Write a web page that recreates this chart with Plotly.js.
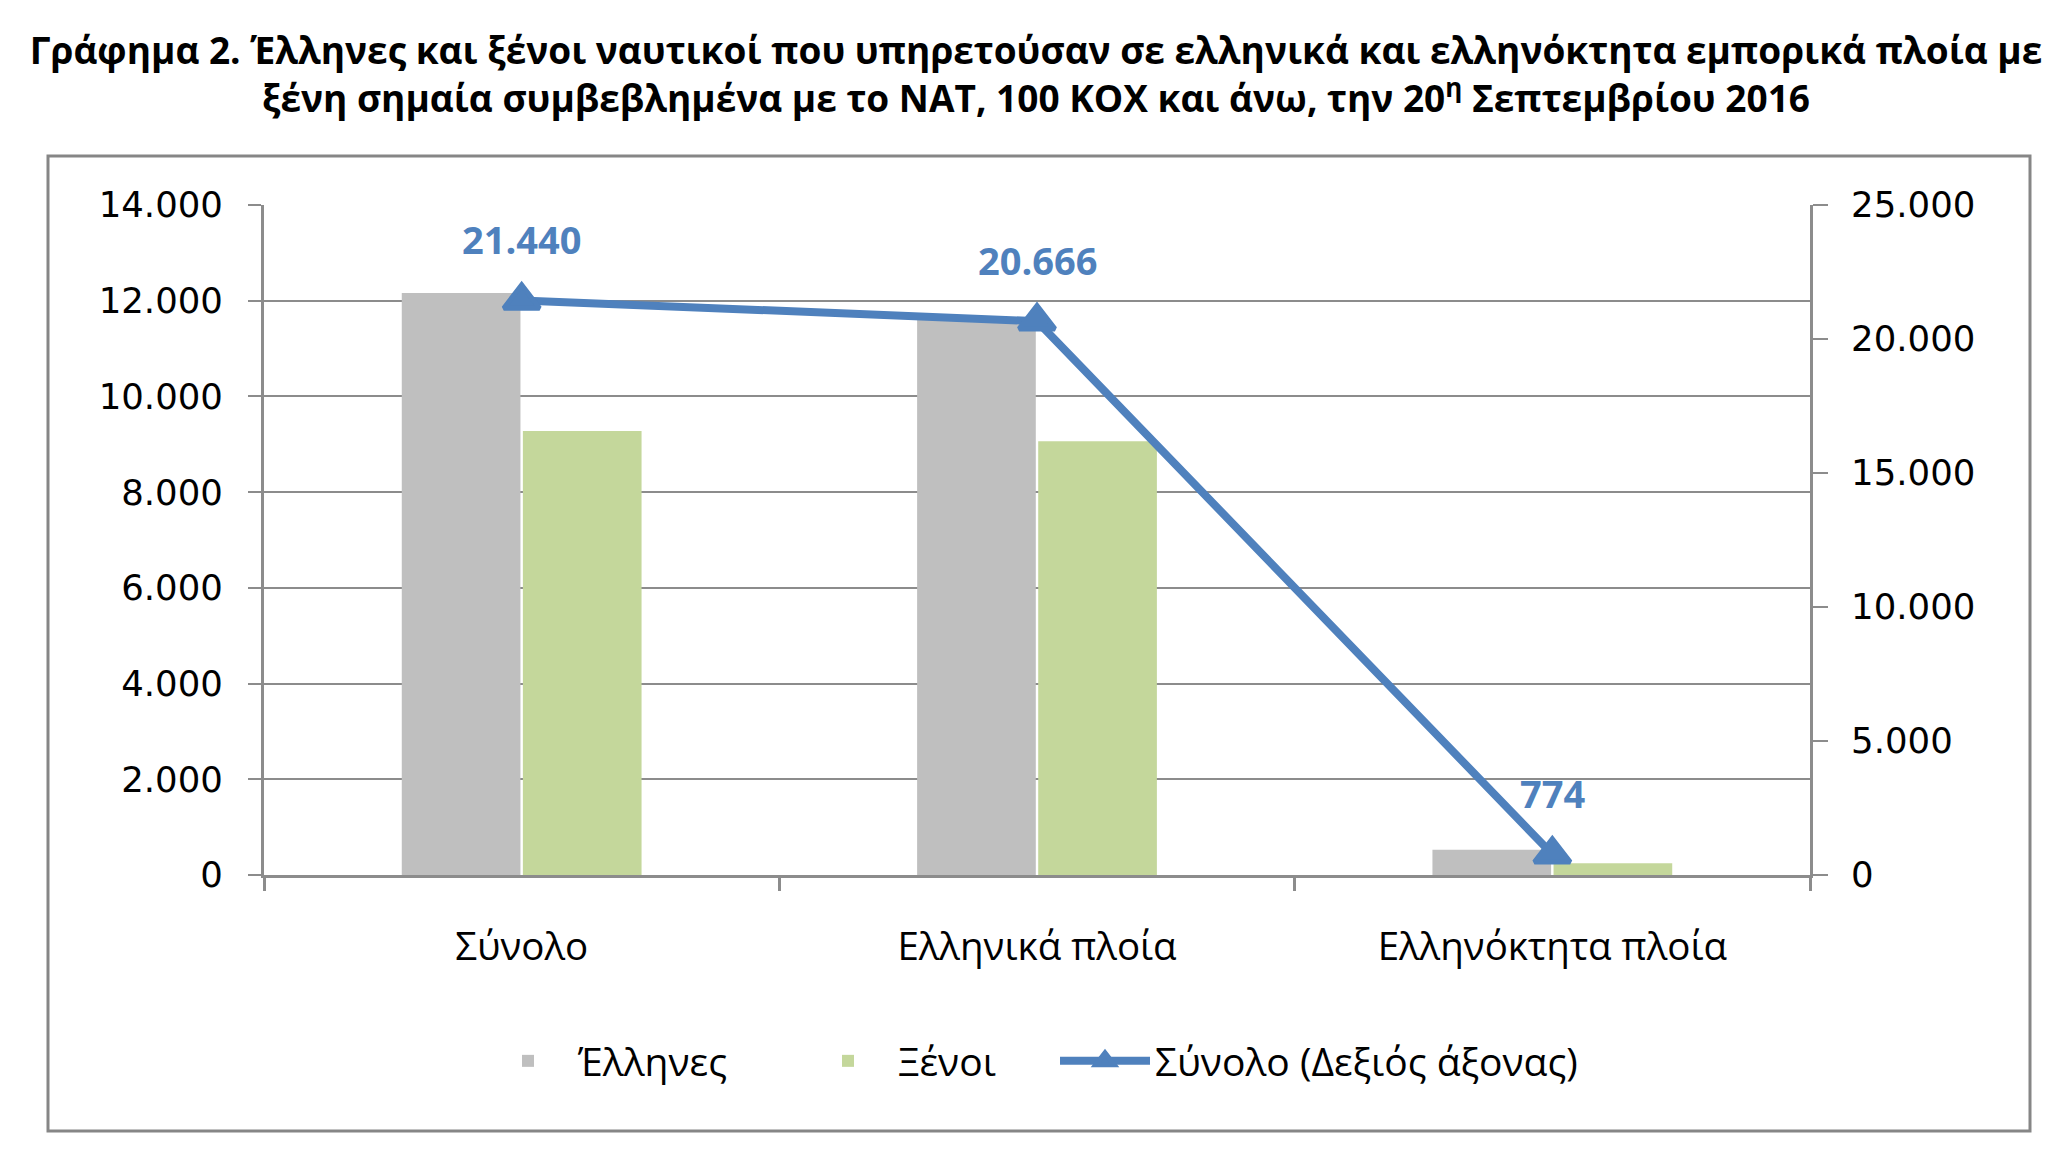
<!DOCTYPE html>
<html>
<head>
<meta charset="utf-8">
<script src="https://cdn.plot.ly/plotly-3.0.1.min.js"></script>
<style>html,body{margin:0;padding:0;background:#fff;}#chart{width:2072px;height:1168px;}</style>
</head>
<body>
<div id="chart"></div>
<script>
const categories = ["Σύνολο", "Ελληνικά πλοία", "Ελληνόκτητα πλοία"];
const greeks = [12160, 11600, 530];
const foreigners = [9280, 9066, 244];
const totals = [21440, 20666, 774];
const seriesNames = ["Έλληνες", "Ξένοι", "Σύνολο (Δεξιός άξονας)"];
const leftTicks = [0, 2000, 4000, 6000, 8000, 10000, 12000, 14000];
const rightTicks = [0, 5000, 10000, 15000, 20000, 25000];

function fmt(v){ return String(v).replace(/\B(?=(\d{3})+(?!\d))/g, "."); }

const W = 2072, H = 1168;
const L = 264, R = 262, T = 205, B = 293;
const pw = W - L - R, ph = H - T - B;
function px2x(px){ return (px - L) / pw; }
function py2y(py){ return (H - B - py) / ph; }

const bodyFont = "Open Sans, Noto Sans, sans-serif";
const tickFont = "DejaVu Sans, Verdana, sans-serif";
const gridCol = "#8c8c8c";
const lineBlue = "#4F81BD";

const traces = [
  {type:"bar", name:seriesNames[0], x:categories, y:greeks, marker:{color:"#BFBFBF"}, yaxis:"y", hoverinfo:"skip", legendwidth:215},
  {type:"bar", name:seriesNames[1], x:categories, y:foreigners, marker:{color:"#C4D79B"}, yaxis:"y", hoverinfo:"skip", legendwidth:152},
  {type:"scatter", mode:"lines+markers", name:seriesNames[2], x:categories, y:totals, yaxis:"y2",
   line:{color:lineBlue, width:8},
   marker:{symbol:"triangle-up", size:31, color:lineBlue, line:{color:lineBlue, width:5}}, hoverinfo:"skip"}
];

const annotations = categories.map((c,i)=>({
  x:c, y:totals[i], xref:"x", yref:"y2", text:fmt(totals[i]), showarrow:false,
  yshift:61, font:{family:bodyFont, size:38, color:lineBlue, weight:700}
}));

const layout = {
  width:W, height:H,
  margin:{l:L, r:R, t:T, b:B, pad:0},
  paper_bgcolor:"#ffffff", plot_bgcolor:"#ffffff",
  separators:",.",
  title:{
    text:"Γράφημα 2. Έλληνες και ξένοι ναυτικοί που υπηρετούσαν σε ελληνικά και ελληνόκτητα εμπορικά πλοία με<br>ξένη σημαία συμβεβλημένα με το ΝΑΤ, 100 ΚΟΧ και άνω, την 20<sup>η</sup> Σεπτεμβρίου 2016",
    font:{family:bodyFont, size:37, color:"#000", weight:700},
    x:0.5, xanchor:"center", xref:"container", y:1-64/H, yanchor:"middle", yref:"container"
  },
  barmode:"group", bargap:0.53, bargroupgap:0.02,
  showlegend:true,
  legend:{orientation:"h", x:px2x(478), xanchor:"left", y:py2y(1061), yanchor:"middle",
    font:{family:bodyFont, size:39, color:"#000"}, itemwidth:90, itemsizing:"trace", traceorder:"normal"},
  xaxis:{type:"category", showline:true, linecolor:gridCol, linewidth:3, ticks:"outside", tickson:"boundaries",
    ticklen:13, tickcolor:gridCol, tickwidth:3, tickfont:{family:bodyFont, size:38.5, color:"#000"},
    ticklabelstandoff:36, showgrid:false, zeroline:false, fixedrange:true},
  yaxis:{range:[0,14000], tickvals:leftTicks, ticktext:leftTicks.map(fmt), showgrid:true, gridcolor:gridCol, gridwidth:2,
    showline:true, linecolor:gridCol, linewidth:3, ticks:"outside", ticklen:13, tickcolor:gridCol, tickwidth:2,
    tickfont:{family:tickFont, size:35.5, color:"#000"}, ticklabelstandoff:18, zeroline:false, fixedrange:true},
  yaxis2:{range:[0,25000], tickvals:rightTicks, ticktext:rightTicks.map(fmt), overlaying:"y", side:"right",
    showgrid:false, showline:true, linecolor:gridCol, linewidth:3, ticks:"outside", ticklen:15, tickcolor:gridCol, tickwidth:2,
    tickfont:{family:tickFont, size:35.5, color:"#000"}, ticklabelstandoff:16, zeroline:false, fixedrange:true},
  annotations:annotations,
  shapes:[
    {type:"rect", xref:"paper", yref:"paper", x0:px2x(48), x1:px2x(2030), y0:py2y(156), y1:py2y(1131),
     line:{color:"#868686", width:3}, fillcolor:"rgba(0,0,0,0)", layer:"below"}
  ]
};

Plotly.newPlot("chart", traces, layout, {displayModeBar:false, staticPlot:true});
</script>
</body>
</html>
